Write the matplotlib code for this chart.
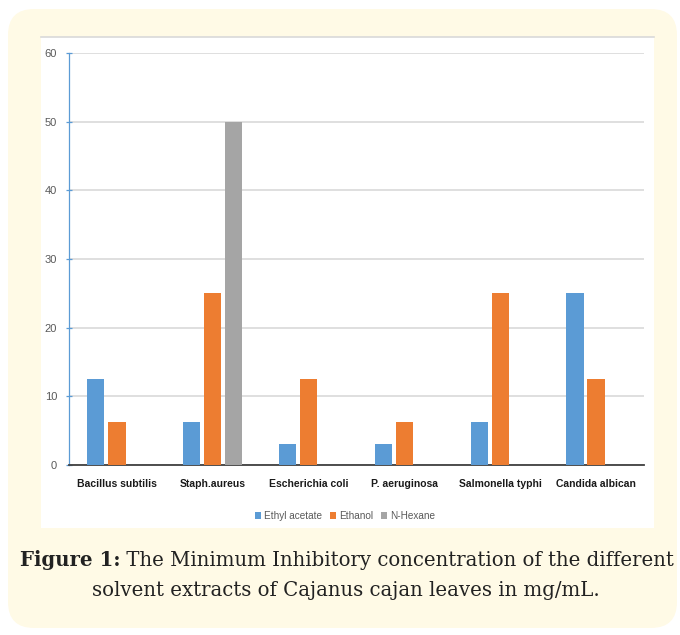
import matplotlib.pyplot as plt
import numpy as np
from matplotlib.patches import FancyBboxPatch, Rectangle

# Data (MIC values, mg/mL)
organisms = ["Bacillus subtilis", "Staph.aureus", "Escherichia coli",
             "P. aeruginosa", "Salmonella typhi", "Candida albican"]
ethyl_acetate = [12.5, 6.25, 3.125, 3.125, 6.25, 25]
ethanol = [6.25, 25, 12.5, 6.25, 25, 12.5]
n_hexane = [0, 50, 0, 0, 0, 0]

series_names = ["Ethyl acetate", "Ethanol", "N-Hexane"]
series_colors = ["#5B9BD5", "#ED7D31", "#A5A5A5"]
yticks = [0, 10, 20, 30, 40, 50, 60]

narrow = ["DejaVu Sans Condensed", "Liberation Sans", "DejaVu Sans"]
serif = ["DejaVu Serif", "Liberation Serif"]

fig = plt.figure(figsize=(6.8, 6.35), dpi=100)
fig.patch.set_facecolor("white")

# cream rounded card behind everything
card = FancyBboxPatch((8, 7), 669, 619, boxstyle="round,pad=0,rounding_size=26",
                      transform=None, facecolor="#FFFAE6", edgecolor="none", zorder=0)
fig.patches.append(card)

# white chart panel
panel = Rectangle((41, 107), 613, 491, transform=None, facecolor="white",
                  edgecolor="none", zorder=1)
fig.patches.append(panel)
fig.add_artist(plt.Line2D([41, 654], [598, 598], transform=None, color="#D9D9D9", lw=1.2, zorder=2))

ax = fig.add_axes([69 / 680, 170 / 635, 575 / 680, 412 / 635])
ax.set_zorder(5)
ax.set_facecolor("none")

x = np.arange(len(organisms))
width = 0.18
step = 0.22
for i, (vals, color) in enumerate(zip([ethyl_acetate, ethanol, n_hexane], series_colors)):
    ax.bar(x + (i - 1) * step, vals, width, color=color, label=series_names[i], zorder=3)

ax.set_xlim(-0.5, len(organisms) - 0.5)
ax.set_ylim(0, 60)
ax.set_yticks(yticks)
ax.yaxis.grid(True, color="#D9D9D9", lw=1.2, zorder=0)
ax.set_axisbelow(True)

for s in ["top", "right"]:
    ax.spines[s].set_visible(False)
ax.spines["left"].set_color("#5B9BD5")
ax.spines["left"].set_linewidth(0.9)
ax.spines["bottom"].set_color("#404040")
ax.spines["bottom"].set_linewidth(1.3)

ax.tick_params(axis="y", direction="inout", length=5, width=0.9, color="#5B9BD5",
               labelsize=8, labelcolor="#595959", pad=6)
ax.tick_params(axis="x", length=0, pad=10)
for lab in ax.get_yticklabels():
    lab.set_family(narrow)

ax.set_xticks(x)
ax.set_xticklabels(organisms, fontsize=7.5, fontweight="bold", family=narrow, color="#1A1A1A")

leg = ax.legend(loc="upper center", bbox_to_anchor=(0.48, -0.09), ncol=3, frameon=False,
                prop={"family": narrow, "size": 7.2}, handlelength=0.6, handleheight=0.6,
                handletextpad=0.3, columnspacing=0.8)
for t in leg.get_texts():
    t.set_color("#595959")

# caption: bold "Figure 1:" followed by regular text, centred as one line
y1 = 1 - 560 / 635
t_bold = fig.text(0, y1, "Figure 1:", ha="left", va="center", fontsize=14.2,
                  fontweight="bold", family=serif, color="#222222")
t_rest = fig.text(0, y1, " The Minimum Inhibitory concentration of the different",
                  ha="left", va="center", fontsize=14.2, family=serif, color="#222222")
r = fig.canvas.get_renderer()
wb = t_bold.get_window_extent(r).width
wr = t_rest.get_window_extent(r).width
x0 = 347 - (wb + wr) / 2
t_bold.set_x(x0 / 680)
t_rest.set_x((x0 + wb) / 680)
fig.text(346 / 680, 1 - 591 / 635, "solvent extracts of Cajanus cajan leaves in mg/mL.",
         ha="center", va="center", fontsize=14.2, family=serif, color="#222222")

fig.savefig("out.png", dpi=100)
